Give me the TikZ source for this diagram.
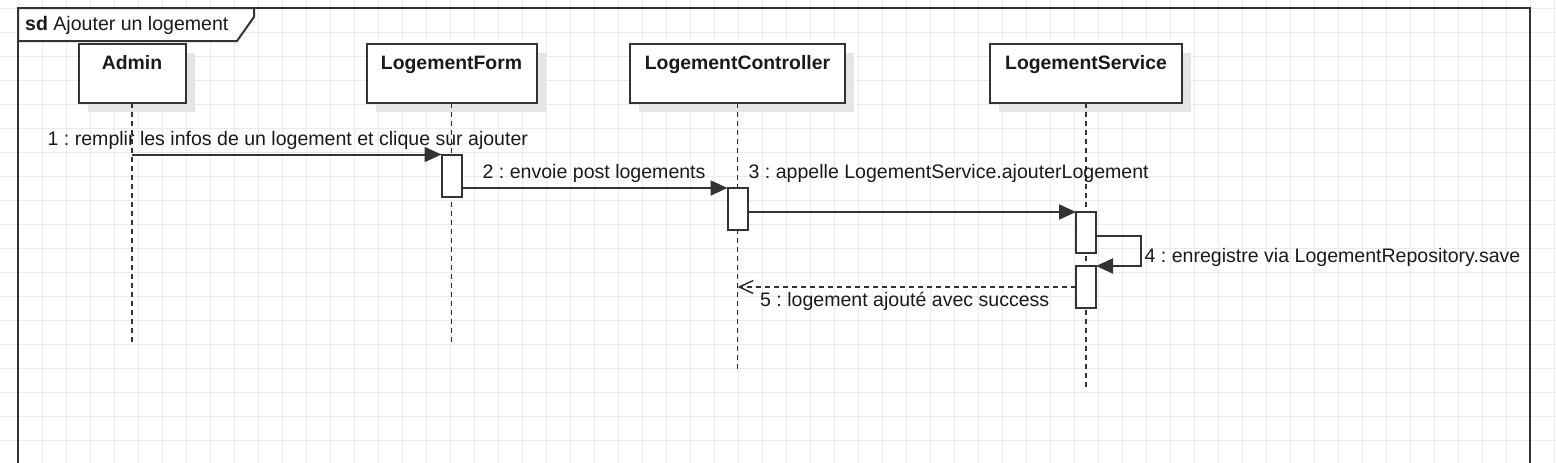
\documentclass[tikz,border=0pt]{standalone}
\usepackage{fontspec}
\setmainfont{Liberation Sans}
\usetikzlibrary{arrows.meta,shadows}
\definecolor{trait}{HTML}{333333}
\definecolor{grille}{HTML}{EBEBEB}
\definecolor{texte}{HTML}{1A1A1A}
\frenchspacing

\begin{document}
\begin{tikzpicture}[x=1pt,y=-1pt,
		font=\fontsize{19.55pt}{23pt}\selectfont, text=texte,
		tete/.style={draw=trait, line width=2pt, fill=white, font=\fontsize{19.4pt}{23pt}\selectfont\bfseries,
			text height=25.5pt, text depth=33.5pt, inner ysep=0pt, outer sep=0pt, anchor=north,
			drop shadow={shadow xshift=9pt, shadow yshift=-9pt, fill=black!10, opacity=1}},
		vie/.style={draw=trait, line width=1.5pt, dash pattern=on 5pt off 4pt},
		activ/.style={draw=trait, line width=2pt, fill=white, minimum width=20pt, inner sep=0pt, outer sep=0pt, anchor=north},
		msg/.style={draw=trait, line width=2pt, -{Triangle[length=17pt,width=15pt]}},
		retour/.style={draw=trait, line width=1.5pt, dash pattern=on 5pt off 4pt, -{Straight Barb[length=14pt,width=13pt,line width=1.5pt]}},
		etiq/.style={anchor=base west, inner sep=0pt}]
		
		\useasboundingbox (0,0) rectangle (1556,463);
		\clip (0,0) rectangle (1556,463);
		
		% Grille
		\foreach \gx in {18.5,42.5,...,1556}
			\draw[grille, line width=1pt] (\gx,0) -- (\gx,463);
		\foreach \gy in {8.5,32.5,...,463}
			\draw[grille, line width=1pt] (0,\gy) -- (1556,\gy);
		
		% Cadre
		\draw[trait, line width=2pt] (18,8) rectangle (1530,480);
		\draw[trait, line width=2pt, fill=white] (18,8) -- (254,8) -- (254,17) -- (237,41) -- (18,41) -- cycle;
		\node[etiq] (titre) at (25,30) {\textbf{sd} Ajouter un logement};
		
		% Entetes
		\node[tete, minimum width=107pt] (admin) at (132,43.5) {Admin};
		\node[tete, minimum width=170pt] (form) at (451.5,43.5) {LogementForm};
		\node[tete, minimum width=215pt] (ctrl) at (737.5,43.5) {LogementController};
		\node[tete, minimum width=192pt] (serv) at (1086,43.5) {LogementService};
		
		% Lignes de vie
		\coordinate (finadmin) at (admin.south |- 0,343);
		\coordinate (finform) at (form.south |- 0,343);
		\coordinate (finctrl) at (ctrl.south |- 0,370);
		\coordinate (finserv) at (serv.south |- 0,388);
		\draw[vie] (admin.south) -- (finadmin);
		\draw[vie] (form.south) -- (finform);
		\draw[vie] (ctrl.south) -- (finctrl);
		\draw[vie] (serv.south) -- (finserv);
		
		% Activations
		\node[activ, minimum height=42pt] (actform) at (form.south |- 0,154.5) {};
		\node[activ, minimum height=42pt] (actctrl) at (ctrl.south |- 0,188) {};
		\node[activ, minimum height=41pt] (actserv) at (serv.south |- 0,212) {};
		\node[activ, minimum height=42pt] (actsave) at (serv.south |- 0,266) {};
		
		% Messages
		\draw[msg] (admin.south |- actform.north) -- (actform.north west);
		\draw[msg] (actform.east |- actctrl.north) -- (actctrl.north west);
		\draw[msg] (actctrl.east |- actserv.north) -- (actserv.north west);
		\draw[msg] ([yshift=-24pt]actserv.north east) -- ++(45,0) |- (actsave.north east);
		\draw[retour] ([yshift=-21pt]actsave.north west) coordinate (depart) -- (depart -| ctrl.south);
		
		% Libelles
		\node[etiq] (m1) at (47.5,145.5) {1 : remplir les infos de un logement et clique sur ajouter};
		\node[etiq] (m2) at (482.5,178) {2 : envoie post logements};
		\node[etiq] (m3) at (748.5,178) {3 : appelle LogementService.ajouterLogement};
		\node[etiq] (m4) at (1144.5,262) {4 : enregistre via LogementRepository.save};
		\node[etiq] (m5) at (760,306) {5 : logement ajouté avec success};
		
	\end{tikzpicture}
\end{document}
